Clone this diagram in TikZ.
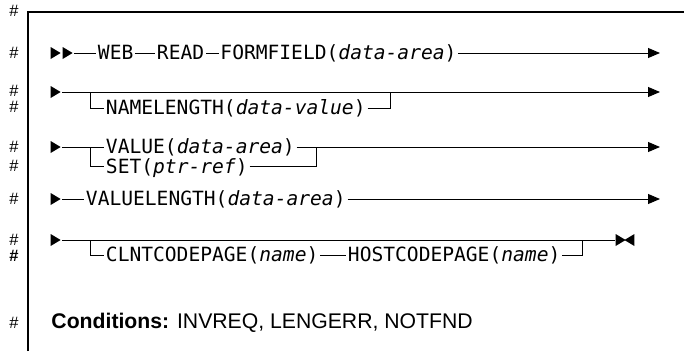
\documentclass[tikz,border=0pt]{standalone}
\usepackage{fontspec}
\setmainfont{Liberation Sans}
\newfontfamily\synfont{DejaVu Sans Mono}
\usetikzlibrary{arrows.meta,shapes.geometric}
\begin{document}
\begin{tikzpicture}[
   x=1pt,y=-1pt,
   line width=0.9pt,
   kw/.style={font=\synfont\fontsize{19.6}{20}\selectfont,inner xsep=1.5pt,inner ysep=0pt,
     text height=13pt,text depth=0pt,anchor=west},
   tri/.style={isosceles triangle,isosceles triangle stretches,fill=black,inner sep=0pt,
     minimum width=12pt,minimum height=10pt},
   back/.style={tri,shape border rotate=180},
   hash/.style={font=\fontsize{16.5}{17}\selectfont,inner sep=0pt,text height=11pt,text depth=0pt},
   go/.style={-{Triangle[length=12pt,width=10pt]}},
   cond/.style={font=\fontsize{21.2}{22}\selectfont,inner sep=0pt,anchor=west}
 ]
  \useasboundingbox (0,0) rectangle (684,351);
  \draw[line width=1.1pt] (28,351) -- (28,12) -- (684,12);
  \foreach \y in {11,53,91,107,147,166,199,240,323}
    \node[hash] (h\y) at (14,\y) {\#};
  \node[hash,font=\bfseries\fontsize{16.5}{17}\selectfont] (h256) at (14,256) {\#};
  % row 1
  \node[tri] (s1a) at (54,53) {};
  \node[tri] (s1b) at (66,53) {};
  \node[kw] (web) at (96,53) {WEB};
  \node[kw] (read) at (155,53) {READ};
  \node[kw] (ffld) at (218.5,53) {FORMFIELD(\textit{data-area})};
  \coordinate (e1) at (660,53);
  \draw (s1b) -- (web);
  \draw (web) -- (read);
  \draw (read) -- (ffld);
  \draw[go] (ffld) -- (e1);
  % row 2
  \node[tri] (s2) at (54,92) {};
  \node[kw] (nlen) at (104,108) {NAMELENGTH(\textit{data-value})};
  \coordinate (j2a) at (90,92);
  \coordinate (j2b) at (390,92);
  \coordinate (e2) at (660,92);
  \draw[go] (s2) -- (e2);
  \draw (j2a) |- (nlen);
  \draw (nlen) -| (j2b);
  % row 3
  \node[tri] (s3) at (54,147) {};
  \node[kw] (val) at (104,147) {VALUE(\textit{data-area})};
  \node[kw] (set) at (104,166.5) {SET(\textit{ptr-ref})};
  \coordinate (j3a) at (90,147);
  \coordinate (j3b) at (316,147);
  \coordinate (e3) at (660,147);
  \draw (s3) -- (val);
  \draw (j3a) |- (set);
  \draw (set) -| (j3b);
  \draw[go] (val) -- (e3);
  % row 4
  \node[tri] (s4) at (54,199) {};
  \node[kw] (vlen) at (84,199) {VALUELENGTH(\textit{data-area})};
  \coordinate (e4) at (660,199);
  \draw (s4) -- (vlen);
  \draw[go] (vlen) -- (e4);
  % row 5
  \node[tri] (s5) at (54,240) {};
  \node[tri] (f5a) at (619,240) {};
  \node[back] (f5b) at (631,240) {};
  \node[kw] (clnt) at (104,255) {CLNTCODEPAGE(\textit{name})};
  \node[kw] (host) at (346,255) {HOSTCODEPAGE(\textit{name})};
  \coordinate (j5a) at (90,240);
  \coordinate (j5b) at (582,240);
  \draw (s5) -- (f5a);
  \draw (j5a) |- (clnt);
  \draw (clnt) -- (host);
  \draw (host) -| (j5b);
  \node[cond] (cnd) at (51,323) {\textbf{Conditions:} INVREQ, LENGERR, NOTFND};
\end{tikzpicture}
\end{document}
